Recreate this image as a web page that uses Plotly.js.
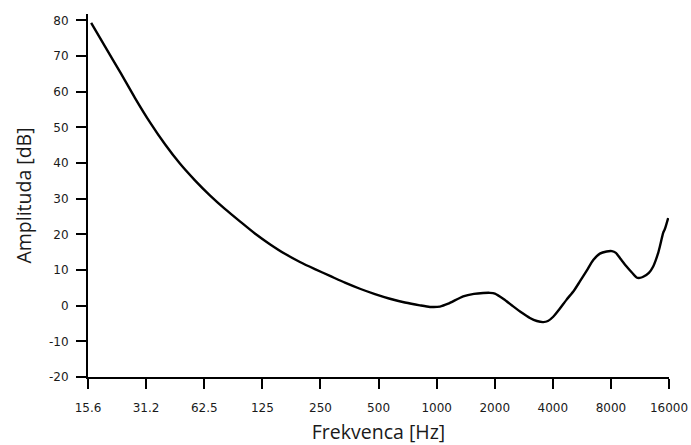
<!DOCTYPE html>
<html>
<head>
<meta charset="utf-8">
<script src="https://cdn.plot.ly/plotly-3.0.1.min.js"></script>
<style>html,body{margin:0;padding:0;background:#fff;}#chart{width:691px;height:445px;}</style>
</head>
<body>
<div id="chart"></div>
<script>
var frequencyHz = [16.2, 19.1, 22.9, 27.3, 32.7, 39.1, 46.7, 55.9, 66.8, 79.9, 95.6, 114.3, 136.7, 163.5, 195.6, 233.9, 280, 334.7, 400.3, 478.8, 572.6, 684.8, 819, 923, 1040, 1148, 1373, 1560, 1743, 1888, 2004, 2231, 2493, 2766, 3043, 3307, 3566, 3772, 4019, 4353, 4714, 5143, 5524, 6006, 6479, 7012, 7600, 8093, 8489, 9013, 9645, 10272, 10867, 11304, 11760, 12584, 13250, 14010, 14346, 14923, 15230, 15843];
var amplitudeDb = [79.3, 72.7, 65.5, 58.3, 51.4, 45.25, 39.85, 35.15, 30.95, 27.15, 23.65, 20.25, 17.25, 14.55, 12.25, 10.25, 8.35, 6.45, 4.75, 3.25, 1.95, 0.9, 0.1, -0.35, -0.25, 0.55, 2.6, 3.3, 3.55, 3.6, 3.4, 1.8, -0.2, -2.0, -3.45, -4.3, -4.6, -4.3, -3.1, -0.8, 1.7, 4.2, 6.8, 9.9, 12.8, 14.6, 15.2, 15.3, 14.8, 13.0, 11.0, 9.3, 7.9, 7.8, 8.1, 9.2, 11.0, 14.5, 16.6, 20.4, 21.5, 24.6];
var xTickVals = [15.6, 31.2, 62.5, 125, 250, 500, 1000, 2000, 4000, 8000, 16000];
var xTickText = ["15.6", "31.2", "62.5", "125", "250", "500", "1000", "2000", "4000", "8000", "16000"];
var yTickVals = [-20, -10, 0, 10, 20, 30, 40, 50, 60, 70, 80];
var yTickText = ["-20", "-10", "0", "10", "20", "30", "40", "50", "60", "70", "80"];

var trace = {
  x: frequencyHz,
  y: amplitudeDb,
  type: 'scatter',
  mode: 'lines',
  line: {color: '#000000', width: 2.4, shape: 'spline', smoothing: 0.6},
  hoverinfo: 'skip'
};

var tickFont = {family: 'DejaVu Sans', size: 12, color: '#1a1a1a'};
var titleFont = {family: 'Open Sans', size: 19.5, color: '#1a1a1a'};
var layout = {
  width: 691,
  height: 445,
  margin: {l: 88, r: 22, t: 14, b: 68, pad: 0},
  paper_bgcolor: '#ffffff',
  plot_bgcolor: '#ffffff',
  showlegend: false,
  xaxis: {
    type: 'log',
    range: [Math.log10(15.6), Math.log10(16000)],
    tickmode: 'array',
    tickvals: xTickVals,
    ticktext: xTickText,
    showgrid: false,
    zeroline: false,
    showline: true,
    linecolor: '#000000',
    linewidth: 2,
    ticks: 'outside',
    ticklen: 10,
    tickwidth: 2,
    tickcolor: '#000000',
    tickfont: tickFont,
    ticklabelstandoff: 9,
    title: {text: 'Frekvenca [Hz]', font: titleFont, standoff: 18}
  },
  yaxis: {
    range: [-20, 81.8],
    tickmode: 'array',
    tickvals: yTickVals,
    ticktext: yTickText,
    showgrid: false,
    zeroline: false,
    showline: true,
    linecolor: '#000000',
    linewidth: 2,
    ticks: 'outside',
    ticklen: 10,
    tickwidth: 2,
    tickcolor: '#000000',
    tickfont: tickFont,
    ticklabelstandoff: 5,
    title: {text: 'Amplituda [dB]', font: titleFont, standoff: 12}
  }
};

Plotly.newPlot('chart', [trace], layout, {displayModeBar: false, staticPlot: true});
</script>
</body>
</html>
